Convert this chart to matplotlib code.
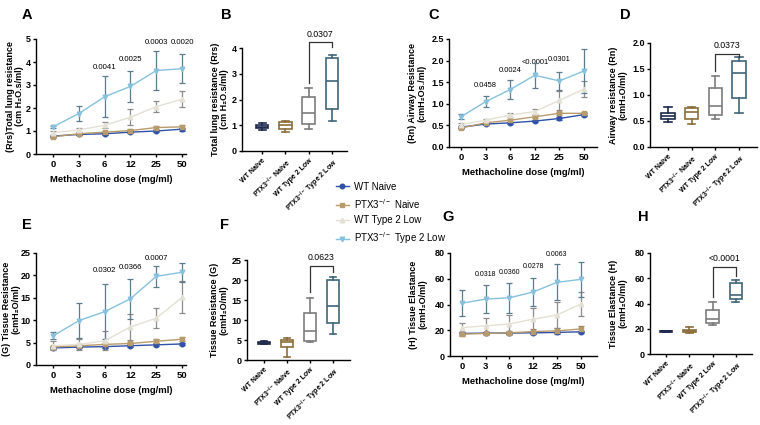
import numpy as np
import matplotlib
matplotlib.use('Agg')
import matplotlib.pyplot as plt
from matplotlib.lines import Line2D

plt.rcParams['font.family'] = ['Liberation Sans', 'DejaVu Sans']
plt.rcParams['mathtext.default'] = 'regular'
plt.rcParams['axes.linewidth'] = 1.0

# ---- data ----
doses = ['0', '3', '6', '12', '25', '50']
groups = ['WT Naive', 'PTX3$^{-/-}$ Naive', 'WT Type 2 Low', 'PTX3$^{-/-}$ Type 2 Low']

# A: Rrs
rrs_mean = [[0.78, 0.85, 0.88, 0.95, 1.00, 1.08],
            [0.75, 0.88, 0.95, 1.02, 1.15, 1.18],
            [0.92, 1.05, 1.25, 1.60, 2.06, 2.38],
            [1.18, 1.76, 2.49, 2.94, 3.63, 3.71]]
rrs_err = [[0.04, 0.04, 0.04, 0.05, 0.05, 0.06],
           [0.05, 0.06, 0.06, 0.07, 0.08, 0.08],
           [0.10, 0.10, 0.14, 0.36, 0.25, 0.35],
           [0.04, 0.33, 0.88, 0.68, 0.86, 0.62]]
rrs_p = ['', '', '0.0041', '0.0025', '0.0003', '0.0020']
rrs_py = [0, 0, 3.75, 4.1, 4.85, 4.85]

# C: Rn
rn_mean = [[0.46, 0.53, 0.56, 0.60, 0.66, 0.75],
           [0.44, 0.56, 0.62, 0.70, 0.78, 0.78],
           [0.52, 0.62, 0.74, 0.82, 1.08, 1.34],
           [0.70, 1.05, 1.33, 1.66, 1.53, 1.76]]
rn_err = [[0.02, 0.02, 0.02, 0.02, 0.03, 0.03],
          [0.03, 0.03, 0.03, 0.04, 0.04, 0.04],
          [0.03, 0.03, 0.04, 0.06, 0.22, 0.19],
          [0.06, 0.13, 0.21, 0.29, 0.21, 0.50]]
rn_p = ['', '0.0458', '0.0024', '<0.0001', '0.0301', '']
rn_py = [0, 1.43, 1.76, 1.96, 2.03, 0]

# E: G tissue resistance
g_mean = [[3.8, 4.0, 4.1, 4.3, 4.5, 4.7],
          [4.0, 4.3, 4.6, 4.8, 5.3, 5.75],
          [4.3, 4.6, 5.4, 8.5, 10.45, 15.1],
          [6.5, 9.9, 11.9, 14.8, 19.8, 20.7]]
g_err = [[0.2, 0.2, 0.2, 0.3, 0.3, 0.3],
         [0.3, 0.3, 0.3, 0.3, 0.4, 0.4],
         [1.0, 1.2, 2.1, 2.9, 2.2, 3.6],
         [0.8, 3.9, 6.2, 4.5, 2.4, 2.1]]
g_p = ['', '', '0.0302', '0.0366', '0.0007', '']
g_py = [0, 0, 21.0, 21.8, 23.7, 0]

# G: H tissue elastance
h_mean = [[17.5, 17.8, 17.8, 18.0, 18.3, 18.8],
          [17.0, 17.5, 18.0, 19.0, 19.5, 21.0],
          [22.1, 23.4, 24.9, 28.6, 31.8, 40.4],
          [41.0, 44.2, 45.2, 49.7, 57.2, 59.5]]
h_err = [[1.0, 1.0, 1.0, 1.0, 1.0, 1.0],
         [1.5, 1.5, 1.8, 2.0, 2.0, 2.0],
         [3.9, 6.0, 7.0, 9.0, 10.4, 9.1],
         [9.9, 10.6, 11.8, 10.6, 14.0, 13.8]]
h_p = ['', '0.0318', '0.0360', '0.0278', '0.0063', '']
h_py = [0, 63, 65, 69.4, 78.5, 0]

# box plots at 50 mg/ml: whislo, q1, median, q3, whishi
rrs_box = [[0.80, 0.88, 0.93, 1.00, 1.10],
           [0.73, 0.87, 1.00, 1.12, 1.18],
           [0.87, 1.04, 1.48, 2.11, 2.44],
           [1.15, 1.64, 2.70, 3.63, 3.73]]
rn_box = [[0.48, 0.54, 0.60, 0.65, 0.76],
          [0.45, 0.54, 0.67, 0.75, 0.77],
          [0.53, 0.61, 0.79, 1.14, 1.36],
          [0.66, 0.94, 1.42, 1.65, 1.73]]
g_box = [[4.0, 4.1, 4.3, 4.45, 4.8],
         [0.66, 3.3, 4.6, 4.9, 5.5],
         [4.4, 4.8, 7.2, 11.7, 15.4],
         [6.4, 9.2, 13.4, 19.9, 20.7]]
h_box = [[17.5, 17.8, 18.0, 18.3, 18.6],
         [17.0, 17.6, 18.2, 19.0, 21.0],
         [22.9, 24.2, 27.6, 34.7, 41.3],
         [40.8, 43.4, 46.6, 56.3, 59.0]]
# bracket: p-value, bracket top, left leg end, right leg end
rrs_bracket = ['0.0307', 4.22, 2.66, 4.03]
rn_bracket = ['0.0373', 1.79, 1.47, 1.74]
g_bracket = ['0.0623', 23.5, 17.0, 22.1]
h_bracket = ['<0.0001', 69.0, 45.5, 62.0]

line_colors = ['#2f51a8', '#b89b6c', '#e4e0d4', '#86c1de']
err_colors = ['#2f51a8', '#9c8258', '#8c8c8c', '#5b7c8c']
markers = ['o', 's', '^', 'v']
box_colors = ['#1d2a4e', '#8c6d3a', '#7d7d7d', '#3f6678']

W, H = 760, 425
fig = plt.figure(figsize=(W / 100, H / 100), dpi=100)


def add_ax(left, right, top, bottom):
    ax = fig.add_axes([left / W, 1 - bottom / H, (right - left) / W, (bottom - top) / H])
    ax.px_left = left
    ax.px_width = right - left
    return ax


def style(ax, label_x, xsize=6.8):
    ax.spines['top'].set_visible(False)
    ax.spines['right'].set_visible(False)
    ax.tick_params(length=2.5, width=1, labelsize=6.5, pad=1.2)
    ax.tick_params(axis='x', labelsize=xsize, pad=2)
    for t in ax.get_yticklabels() + ax.get_xticklabels():
        t.set_fontweight('bold')
    ax.yaxis.set_label_coords((label_x - ax.px_left) / ax.px_width, 0.5)


def line_panel(ax, means, errs, pvals, py, ylim, yticks, ylabel, xlim, yfmt, pfs, label_x):
    x = np.arange(len(doses))
    for i in [3, 2, 1, 0]:
        ax.errorbar(x, means[i], yerr=errs[i], fmt='none', ecolor=err_colors[i],
                    elinewidth=0.9, capsize=2, capthick=0.9, zorder=2 + i, clip_on=False)
        ax.plot(x, means[i], color=line_colors[i], marker=markers[i], ms=3.3,
                lw=1.0, zorder=3 + i, clip_on=False)
    for xi, (p, yy) in enumerate(zip(pvals, py)):
        if p:
            ax.text(xi, yy, p, ha='center', va='center', fontsize=pfs)
    ax.set_ylim(*ylim)
    ax.set_xlim(*xlim)
    ax.set_yticks(yticks)
    ax.set_yticklabels([yfmt.format(v) for v in yticks])
    ax.set_xticks(x)
    ax.set_xticklabels(doses)
    ax.set_ylabel(ylabel, fontsize=6.5, fontweight='bold', va='center', linespacing=1.1)
    ax.set_xlabel('Methacholine dose (mg/ml)', fontsize=6.8, fontweight='bold', labelpad=4)
    style(ax, label_x)


def box_panel(ax, boxes, bracket, ylim, yticks, ylabel, xlim, yfmt, label_x):
    stats = []
    for b in boxes:
        stats.append({'whislo': b[0], 'q1': b[1], 'med': b[2], 'q3': b[3], 'whishi': b[4]})
    pos = np.arange(4)
    art = ax.bxp(stats, positions=pos, widths=0.55, capwidths=0.3, showfliers=False,
                 patch_artist=True)
    for i in range(4):
        c = box_colors[i]
        art['boxes'][i].set(facecolor='white', edgecolor=c, linewidth=1.2)
        art['medians'][i].set(color=c, linewidth=1.2)
        for k in (2 * i, 2 * i + 1):
            art['whiskers'][k].set(color=c, linewidth=1.2)
            art['caps'][k].set(color=c, linewidth=1.2)
    p, top, l_end, r_end = bracket
    ax.plot([2, 2, 3, 3], [l_end, top, top, r_end], color='#333333', lw=0.9, clip_on=False)
    ax.text(2.5, top + (ylim[1] - ylim[0]) * 0.035, p, ha='center', va='bottom', fontsize=6.3)
    ax.set_ylim(*ylim)
    ax.set_xlim(*xlim)
    ax.set_yticks(yticks)
    ax.set_yticklabels([yfmt.format(v) for v in yticks])
    ax.set_xticks(pos)
    ax.set_xticklabels(groups, rotation=45, ha='right', rotation_mode='anchor')
    ax.set_ylabel(ylabel, fontsize=6.5, fontweight='bold', va='center', linespacing=1.1)
    style(ax, label_x, xsize=5.0)


axA = add_ax(36, 186, 39, 154)
line_panel(axA, rrs_mean, rrs_err, rrs_p, rrs_py, (0, 5), [0, 1, 2, 3, 4, 5],
           '(Rrs)Total lung resistance\n(cm H\u2082O.s/ml)', (-0.66, 5.15), '{:g}', 5.6, 15)

axB = add_ax(242, 347, 48, 151)
box_panel(axB, rrs_box, rrs_bracket, (0, 4), [0, 1, 2, 3, 4],
          'Total lung resistance (Rrs)\n(cm H\u2082O.s/ml)', (-0.86, 3.64), '{:g}', 220)

axC = add_ax(449, 597, 39, 147)
line_panel(axC, rn_mean, rn_err, rn_p, rn_py, (0, 2.5), [0, 0.5, 1.0, 1.5, 2.0, 2.5],
           '(Rn) Airway Resistance\n(cmH\u2082Os./ml)', (-0.49, 5.53), '{:.1f}', 5.4, 417)

axD = add_ax(650, 757, 43, 147)
box_panel(axD, rn_box, rn_bracket, (0, 2), [0, 0.5, 1.0, 1.5, 2.0],
          'Airway resistance (Rn)\n(cmH\u2082O/ml)', (-0.76, 3.76), '{:.1f}', 618)

axE = add_ax(36, 186, 253, 365)
line_panel(axE, g_mean, g_err, g_p, g_py, (0, 25), [0, 5, 10, 15, 20, 25],
           '(G) Tissue Resistance\n(cmH\u2082O/ml)', (-0.66, 5.15), '{:g}', 5.6, 11)

axF = add_ax(247, 350, 260, 360)
box_panel(axF, g_box, g_bracket, (0, 25), [0, 5, 10, 15, 20, 25],
          'Tissue Resistance (G)\n(cmH\u2082O/ml)', (-0.74, 3.74), '{:g}', 219)

axG = add_ax(450, 597, 253, 356)
line_panel(axG, h_mean, h_err, h_p, h_py, (0, 80), [0, 20, 40, 60, 80],
           '(H) Tissue Elastance\n(cmH\u2082O/ml)', (-0.5, 5.69), '{:g}', 5.0, 418)

axH = add_ax(650, 752, 253, 354)
box_panel(axH, h_box, h_bracket, (0, 80), [0, 20, 40, 60, 80],
          'Tissue Elastance (H)\n(cmH\u2082O/ml)', (-0.69, 3.69), '{:g}', 618)

# panel letters
for lab, px, py in [('A', 22, 15), ('B', 221, 15), ('C', 428, 15), ('D', 620, 15),
                    ('E', 22, 225), ('F', 220, 225), ('G', 442, 217), ('H', 638, 217)]:
    fig.text(px / W, 1 - py / H, lab, fontsize=10.5, fontweight='bold', ha='left', va='center')

# legend
handles = [Line2D([], [], color=line_colors[i], marker=markers[i], ms=3.3, lw=1.0,
                  markeredgecolor=line_colors[i]) for i in range(4)]
fig.legend(handles, groups, loc='upper left', bbox_to_anchor=(332 / W, 1 - 178 / H),
           frameon=False, fontsize=7.0, handlelength=1.3, handletextpad=0.6,
           labelspacing=0.5, borderaxespad=0)

fig.savefig('out.png', dpi=100)
